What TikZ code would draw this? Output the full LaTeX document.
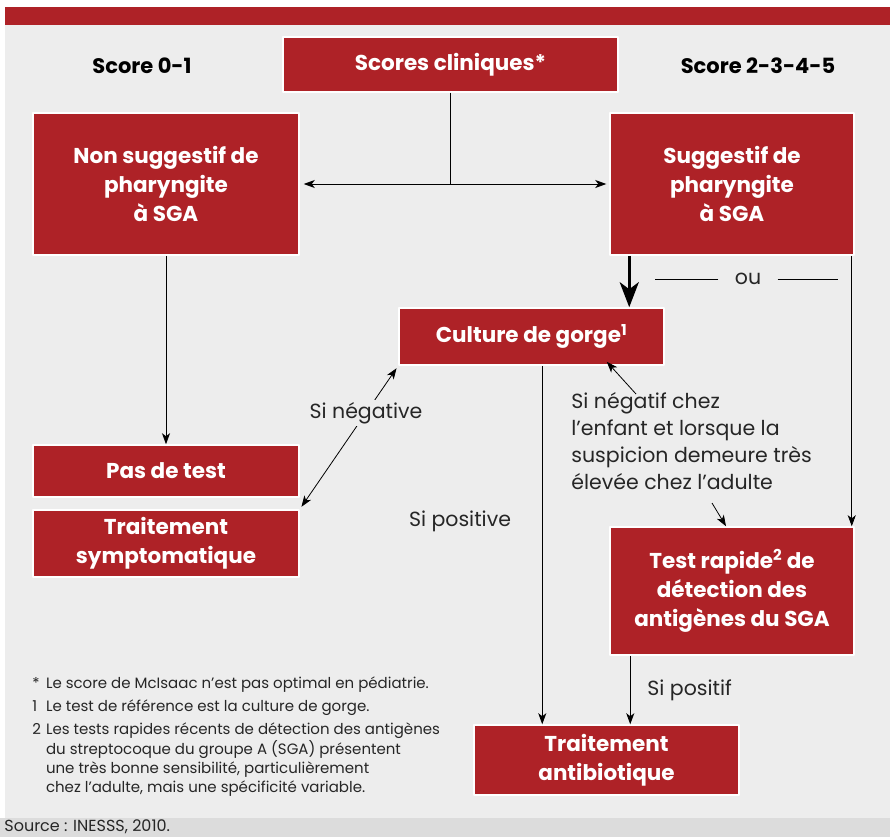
\documentclass[tikz,border=0pt]{standalone}
\usepackage{fontspec}
\setmainfont{Poppins}
\usetikzlibrary{positioning,arrows.meta}
\definecolor{rouge}{HTML}{AE2227}
\definecolor{fond}{HTML}{EDEDED}
\definecolor{fondsrc}{HTML}{DCDCDC}
\tikzset{
  boite/.style={fill=rouge,draw=white,line width=1.5pt,text=white,
    font=\fontsize{21.5}{29}\selectfont\bfseries,align=center,inner sep=0pt},
  etiq/.style={font=\fontsize{20.5}{27}\selectfont,text=black!85,inner sep=0pt},
}
\begin{document}
\begin{tikzpicture}[x=1pt,y=-1pt,line join=round,>={Stealth[length=11pt,width=8pt,inset=3pt]},line width=0.8pt]
\useasboundingbox (0,0) rectangle (890,837);
% fonds
\fill[white] (0,0) rectangle (890,837);
\fill[fond] (5,25) rectangle (890,818);
\fill[rouge] (5,7) rectangle (890,25);
\fill[fondsrc] (0,818) rectangle (890,837);
% boites
\node[boite,minimum width=335,minimum height=55] (sc) at (450.5,64.5) {Scores cliniques*};
\node[boite,minimum width=266,minimum height=142] (nonsug) at (166,184) {Non suggestif de\\pharyngite\\à SGA};
\node[boite,minimum width=244,minimum height=142] (sug) at (732,184) {Suggestif de\\pharyngite\\à SGA};
\node[boite,minimum width=265,minimum height=57] (cult) at (531.5,336.5) {Culture de gorge\textsuperscript{1}};
\node[boite,minimum width=266,minimum height=52] (pas) at (166,471) {Pas de test};
\node[boite,minimum width=266,minimum height=67] (symp) at (166,543.5) {Traitement\\symptomatique};
\node[boite,minimum width=244,minimum height=128] (rapide) at (732,591) {Test rapide\textsuperscript{2} de\\détection des\\antigènes du SGA};
\node[boite,minimum width=265,minimum height=70] (antib) at (606.5,760) {Traitement\\antibiotique};
% titres
\node[font=\fontsize{21}{22}\selectfont\bfseries] (s01) at (142,66) {Score 0-1};
\node[font=\fontsize{21}{22}\selectfont\bfseries] (s25) at (758,66) {Score 2-3-4-5};
% connecteurs
\draw (sc.south) -- (sc.south |- nonsug.east) coordinate (bras);
\draw[<->,shorten <=4,shorten >=3] (nonsug.east) -- (sug.west);
\draw[->] (nonsug.south) -- (pas.north);
\draw[-{Stealth[length=25pt,width=19pt,inset=7pt]},line width=3.5pt] ([xshift=20]sug.south west) -- ([xshift=20]sug.south west |- cult.north);
\node[etiq] (ou) at (748,279) {ou};
\draw (ou.west) ++(-16,0) -- ++(-63,0);
\draw (ou.east) ++(16,0) -- ++(60,0);
\draw[->] ([xshift=-3]sug.south east) -- ([xshift=-3]rapide.north east);
\draw[<->,shorten <=3,shorten >=3] (cult.south west) -- (symp.north east);
\node[etiq,fill=fond,inner sep=2pt] (neg) at (366,413) {Si négative};
\draw[->] ([xshift=144]cult.south west) -- ([xshift=144]cult.south west |- antib.north);
\node[etiq] (pos) at (460,521) {Si positive};
\node[etiq,anchor=north west,align=left] (negatif) at (571,392) {Si négatif chez\\l’enfant et lorsque la\\suspicion demeure très\\élevée chez l’adulte};
\coordinate (n1) at (636,394);
\coordinate (n2) at (712,503);
\draw[->] (n1) -- ([xshift=-58,yshift=4]cult.south east);
\draw[->] (n2) -- ([xshift=-6]rapide.north);
\draw[->] ([xshift=21]rapide.south west) -- ([xshift=21]rapide.south west |- antib.north);
\node[etiq,anchor=west] (sipos) at (647,690) {Si positif};
% notes
\node[anchor=north west,inner sep=0pt,font=\fontsize{15}{19}\selectfont,text=black!85] (notes) at (32,675)
{\begin{tabular}{@{}l@{\hspace{5pt}}l@{}}
*&Le score de McIsaac n’est pas optimal en pédiatrie.\\[4pt]
1&Le test de référence est la culture de gorge.\\[4pt]
2&Les tests rapides récents de détection des antigènes\\
 &du streptocoque du groupe A (SGA) présentent\\
 &une très bonne sensibilité, particulièrement\\
 &chez l’adulte, mais une spécificité variable.
\end{tabular}};
\node[anchor=west,inner sep=0pt,font=\fontsize{16}{18}\selectfont,text=black!85] (source) at (4,826.5) {Source : INESSS, 2010.};
\end{tikzpicture}
\end{document}
